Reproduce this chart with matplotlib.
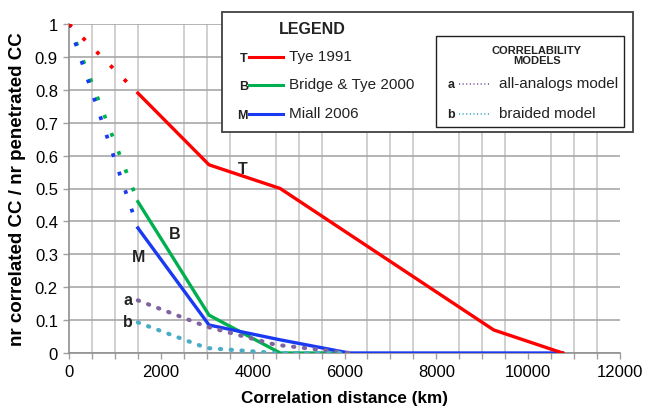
import numpy as np
import matplotlib
matplotlib.use('Agg')
from matplotlib import pyplot as plt
from matplotlib.patches import Rectangle

plt.rcParams['font.family'] = ['Liberation Sans', 'DejaVu Sans']

##-------------------------------------------------------------------------
## Data
##-------------------------------------------------------------------------
tye_x = [0, 1500, 3050, 4600, 9250, 10750]
tye_y = [1.0, 0.79, 0.572, 0.50, 0.07, 0.0]

bridge_x = [0, 1500, 3050, 4600, 5950]
bridge_y = [1.0, 0.46, 0.115, 0.0, 0.0]

miall_x = [0, 1500, 3050, 4600, 6100, 10750]
miall_y = [1.0, 0.38, 0.085, 0.04, 0.0, 0.0]

analogs_x = [1500, 3000, 4500, 6100]
analogs_y = [0.16, 0.08, 0.025, 0.0]

braided_x = [1500, 3000, 4500, 6000]
braided_y = [0.093, 0.015, 0.0, 0.0]

curve_labels = ['T', 'B', 'M', 'a', 'b']
label_x = [3790, 2310, 1510, 1290, 1280]
label_y = [0.56, 0.363, 0.293, 0.164, 0.096]

RED = '#ff0000'
GREEN = '#00b050'
BLUE = '#1a3af2'
PURPLE = '#8064a2'
CYAN = '#4bacc6'

W, H = 653, 410
fig = plt.figure(figsize=(W / 100, H / 100), dpi=100)
ax = fig.add_axes([69 / W, 56 / H, 551 / W, 329 / H])

## grid
ax.set_xlim(0, 12000)
ax.set_ylim(0, 1)
ax.set_xticks(np.arange(0, 12001, 2000))
ax.set_xticks(np.arange(0, 12001, 500), minor=True)
ax.set_yticks(np.arange(0, 1.01, 0.1))
ax.set_yticklabels(['0'] + [f'{v:.1f}' for v in np.arange(0.1, 0.95, 0.1)] + ['1'])
ax.grid(which='minor', axis='x', color='#c8c8c8', lw=1.2)
ax.grid(which='major', axis='y', color='#a8a8a8', lw=1.2)
ax.set_axisbelow(True)
for s in ['top', 'right']:
    ax.spines[s].set_visible(False)
for s in ['left', 'bottom']:
    ax.spines[s].set_color('#909090')
    ax.spines[s].set_linewidth(1.2)
ax.tick_params(axis='both', which='both', direction='out', length=4,
               color='#a0a0a0', width=1.0, labelsize=12, pad=4)

## curves
dots_sq = (0, (1, 4.2))
LW = 2.7
ax.plot(bridge_x[:2], bridge_y[:2], color=GREEN, lw=LW, ls=dots_sq, zorder=3)
ax.plot(bridge_x[1:], bridge_y[1:], color=GREEN, lw=2.4, zorder=3)
ax.plot(miall_x[:2], miall_y[:2], color=BLUE, lw=LW, ls=dots_sq, zorder=4)
ax.plot(miall_x[1:], miall_y[1:], color=BLUE, lw=2.4, zorder=4)
ax.plot(tye_x[:2], tye_y[:2], color=RED, lw=LW, ls=dots_sq, zorder=4)
ax.plot(tye_x[1:], tye_y[1:], color=RED, lw=2.4, zorder=4)

dots_rd = (0, (0.3, 2.3))
ax.plot(analogs_x, analogs_y, color=PURPLE, lw=3.0, ls=dots_rd,
        dash_capstyle='round', zorder=5)
ax.plot(braided_x, braided_y, color=CYAN, lw=3.0, ls=dots_rd,
        dash_capstyle='round', zorder=5)

for lab, x, y in zip(curve_labels, label_x, label_y):
    ax.text(x, y, lab, fontsize=11.5, fontweight='bold', color='#222222',
            ha='center', va='center', zorder=6)

ax.set_xlabel('Correlation distance (km)', fontsize=12.3, fontweight='bold',
              labelpad=8)
ax.set_ylabel('nr correlated CC / nr penetrated CC', fontsize=13.5,
              fontweight='bold', labelpad=6)

##-------------------------------------------------------------------------
## Legend box drawn in figure pixels
##-------------------------------------------------------------------------
lg = fig.add_axes([0, 0, 1, 1], zorder=10)
lg.set_xlim(0, W)
lg.set_ylim(H, 0)
lg.axis('off')
lg.patch.set_alpha(0)

lg.add_patch(Rectangle((222, 13), 411, 120, facecolor='white',
                       edgecolor='#404040', lw=1.3))
lg.add_patch(Rectangle((436, 37), 188, 91, facecolor='white',
                       edgecolor='#202020', lw=1.0))
lg.text(312, 30, 'LEGEND', fontsize=11.5, fontweight='bold',
        ha='center', va='center', color='#222222')

entries = [('T', 'Tye 1991', RED, 58), ('B', 'Bridge & Tye 2000', GREEN, 86),
           ('M', 'Miall 2006', BLUE, 115)]
for key, name, col, yy in entries:
    lg.text(248, yy + 1, key, fontsize=9, fontweight='bold', ha='right',
            va='center', color='#222222')
    lg.plot([249, 283], [yy, yy], color=col, lw=2.2)
    lg.text(289, yy - 1, name, fontsize=11, ha='left', va='center',
            color='#222222')

lg.text(537, 56, 'CORRELABILITY\nMODELS', fontsize=8, fontweight='bold',
        ha='center', va='center', linespacing=1.0, color='#222222')
models = [('a', 'all-analogs model', PURPLE, 85), ('b', 'braided model', CYAN, 115)]
for key, name, col, yy in models:
    lg.text(455, yy, key, fontsize=9, fontweight='bold', ha='right',
            va='center', color='#222222')
    lg.plot([459, 490], [yy, yy], color=col, lw=1.3, ls=(0, (0.6, 1.4)))
    lg.text(499, yy - 1, name, fontsize=11, ha='left', va='center',
            color='#222222')

fig.savefig('out.png', dpi=100)
